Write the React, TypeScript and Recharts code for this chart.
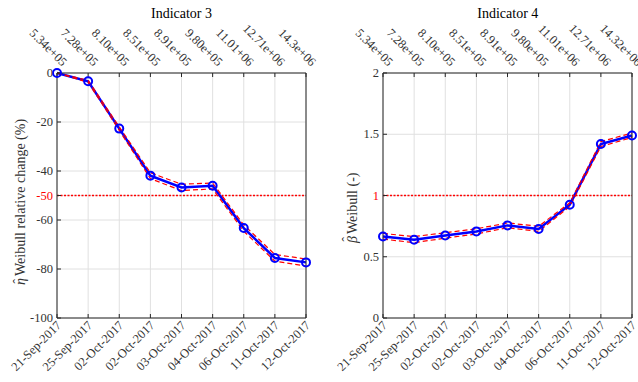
import { LineChart, Line, XAxis, YAxis, CartesianGrid, ReferenceLine } from "recharts";

// test dates (bottom axis) and cumulative samples (top axis)
const dates = [
  "21-Sep-2017", "25-Sep-2017", "02-Oct-2017", "02-Oct-2017", "03-Oct-2017",
  "04-Oct-2017", "06-Oct-2017", "11-Oct-2017", "12-Oct-2017",
];
const samples3 = [
  "5.34e+05", "7.28e+05", "8.10e+05", "8.51e+05", "8.91e+05",
  "9.80e+05", "11.01+06", "12.71e+06", "14.3e+06",
];
const samples4 = [
  "5.34e+05", "7.28e+05", "8.10e+05", "8.51e+05", "8.91e+05",
  "9.80e+05", "11.01e+06", "12.71e+06", "14.32e+06",
];

// eta relative change (%)
const etaMean = [0, -3.4, -22.7, -41.9, -46.7, -46.0, -63.3, -75.5, -77.3];
const etaHigh = [0, -3.0, -22.0, -40.7, -45.4, -44.9, -62.0, -74.1, -75.9];
const etaLow = [0, -3.8, -23.4, -43.1, -48.0, -47.3, -64.6, -76.8, -78.8];
const etaTicks = [0, -20, -40, -50, -60, -80, -100];

// beta shape
const betaMean = [0.666, 0.639, 0.674, 0.707, 0.756, 0.727, 0.925, 1.42, 1.49];
const betaHigh = [0.69, 0.665, 0.696, 0.728, 0.776, 0.749, 0.94, 1.44, 1.51];
const betaLow = [0.644, 0.615, 0.652, 0.686, 0.737, 0.707, 0.91, 1.40, 1.474];
const betaTicks = [0, 0.5, 1, 1.5, 2];

const FONT = '"Liberation Serif", serif';
const AXIS = "#262626";
const TEXT = "#333";
const idx = dates.map((_, i) => i);
const txt = { fontFamily: FONT, fontSize: 12.5 };

function build(mean: number[], high: number[], low: number[]) {
  return mean.map((m, i) => ({ i, mean: m, high: high[i], low: low[i] }));
}

function Panel(props: {
  left: number;
  width: number;
  yWidth: number;
  rWidth: number;
  data: any[];
  top: string[];
  domain: [number, number];
  ticks: number[];
  refValue: number;
}) {
  const { left, width, yWidth, rWidth, data, top, domain, ticks, refValue } = props;
  return (
    <div style={{ position: "absolute", left, top: 0 }}>
      <LineChart width={width} height={382} data={data} margin={{ top: 0, right: 0, bottom: 0, left: 0 }}>
        <CartesianGrid stroke="#e0e0e0" strokeWidth={1} />
        <XAxis
          dataKey="i"
          type="number"
          domain={[0, 8]}
          ticks={idx}
          interval={0}
          height={64}
          stroke={AXIS}
          tickSize={-4}
          tickMargin={12}
          tick={(p: any) => (
            <text
              x={p.x + 5}
              y={p.y}
              transform={`rotate(-45 ${p.x + 5} ${p.y})`}
              textAnchor="end"
              fill={TEXT}
              style={txt}
            >
              {dates[p.payload.value]}
            </text>
          )}
        />
        <XAxis
          xAxisId="top"
          orientation="top"
          dataKey="i"
          type="number"
          domain={[0, 8]}
          ticks={idx}
          interval={0}
          height={73}
          stroke={AXIS}
          tickSize={-4}
          tickMargin={10}
          tick={(p: any) => (
            <text
              x={p.x + 5}
              y={p.y}
              transform={`rotate(45 ${p.x + 5} ${p.y})`}
              textAnchor="end"
              fill={TEXT}
              style={txt}
            >
              {top[p.payload.value]}
            </text>
          )}
        />
        <YAxis
          type="number"
          domain={domain}
          ticks={ticks}
          interval={0}
          width={yWidth}
          stroke={AXIS}
          tickSize={-4}
          tickMargin={8}
          tick={(p: any) => (
            <text
              x={p.x}
              y={p.y}
              dy={4}
              textAnchor="end"
              fill={p.payload.value === refValue ? "#ff0000" : TEXT}
              style={txt}
            >
              {String(p.payload.value)}
            </text>
          )}
        />
        <YAxis
          yAxisId="r"
          orientation="right"
          type="number"
          domain={domain}
          ticks={ticks.filter((t) => t !== refValue)}
          interval={0}
          width={rWidth}
          stroke={AXIS}
          tickSize={-4}
          tick={false}
        />
        <ReferenceLine y={refValue} stroke="#ff0000" strokeWidth={1.5} strokeDasharray="2 1.5" />
        <Line
          dataKey="mean"
          stroke="#0000ff"
          strokeWidth={2.5}
          dot={{ r: 4, stroke: "#0000ff", strokeWidth: 2, fill: "none" }}
          isAnimationActive={false}
        />
        <Line dataKey="high" stroke="#ff0000" strokeWidth={1.2} strokeDasharray="5 3" dot={false} isAnimationActive={false} />
        <Line dataKey="low" stroke="#ff0000" strokeWidth={1.2} strokeDasharray="5 3" dot={false} isAnimationActive={false} />
      </LineChart>
    </div>
  );
}

// rotated axis title with a hat drawn over the greek symbol
function HatLabel(props: { x: number; y: number; sym: string; rest: string; start: number; hatDy: number }) {
  const { x, y, sym, rest, start, hatDy } = props;
  return (
    <g transform={`translate(${x} ${y}) rotate(-90)`}>
      <text x={start} y={0} fontStyle="italic">{sym}</text>
      <text x={start + 1.5} y={hatDy}>ˆ</text>
      <text x={start + 9} y={0}>{rest}</text>
    </g>
  );
}

export default function App() {
  return (
    <div style={{ position: "absolute", left: 0, top: 0, width: 638, height: 382, background: "#fff", fontFamily: FONT }}>
      <Panel
        left={0}
        width={320}
        yWidth={57}
        rWidth={14}
        data={build(etaMean, etaHigh, etaLow)}
        top={samples3}
        domain={[-100, 0]}
        ticks={etaTicks}
        refValue={-50}
      />
      <Panel
        left={320}
        width={318}
        yWidth={63}
        rWidth={6}
        data={build(betaMean, betaHigh, betaLow)}
        top={samples4}
        domain={[0, 2]}
        ticks={betaTicks}
        refValue={1}
      />
      <svg width={638} height={382} style={{ position: "absolute", left: 0, top: 0, pointerEvents: "none" }}>
        <g fill="#000" style={{ fontFamily: FONT, fontSize: 14 }}>
          <text x={181.5} y={18} textAnchor="middle">Indicator 3</text>
          <text x={507.8} y={18} textAnchor="middle">Indicator 4</text>
        </g>
        <g fill={TEXT} style={{ fontFamily: FONT, fontSize: 14 }}>
          <HatLabel x={25} y={196} sym="η" rest="Weibull relative change (%)" start={-89} hatDy={-2} />
          <HatLabel x={357} y={200} sym="β" rest="Weibull (-)" start={-43} hatDy={-5} />
        </g>
      </svg>
    </div>
  );
}
